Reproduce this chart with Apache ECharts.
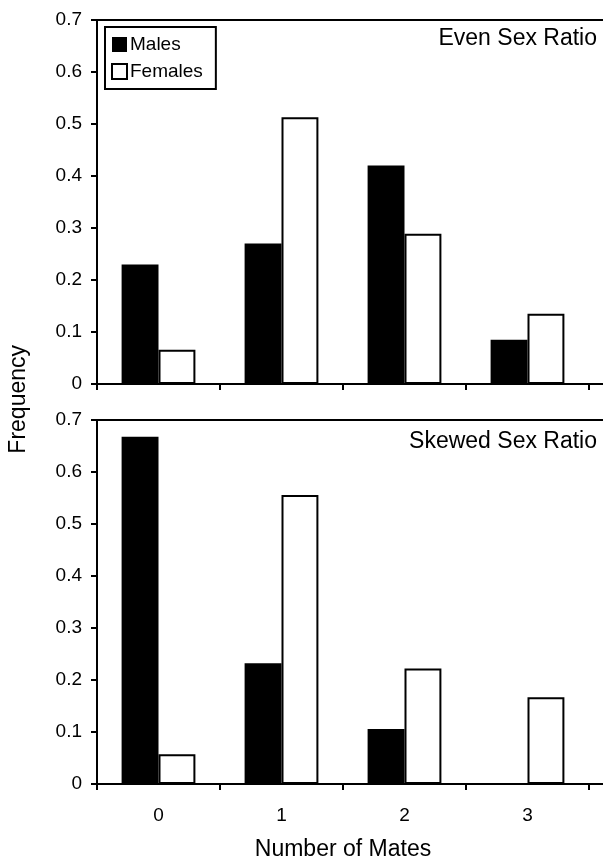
<!DOCTYPE html>
<html>
<head>
<meta charset="utf-8">
<script src="https://cdn.jsdelivr.net/npm/echarts@6/dist/echarts.min.js"></script>
<style>
  html, body { margin: 0; padding: 0; background: #fff; }
  #chart { width: 603px; height: 862px; }
</style>
</head>
<body>
<div id="chart"></div>
<script>
  // Frequency of number of mates, by sex, under two sex-ratio treatments.
  var CATEGORIES = ["0", "1", "2", "3"];
  var EVEN_MALES = [0.23, 0.27, 0.42, 0.085];
  var EVEN_FEMALES = [0.066, 0.513, 0.289, 0.135];
  var SKEWED_MALES = [0.668, 0.232, 0.106, 0];
  var SKEWED_FEMALES = [0.057, 0.556, 0.222, 0.167];
  var Y_TICKS = [0, 0.1, 0.2, 0.3, 0.4, 0.5, 0.6, 0.7];

  var FONT = "Liberation Sans, Arial, sans-serif";
  var INK = "#000";

  var chart = echarts.init(document.getElementById("chart"), null, { renderer: "canvas" });

  // v6 would otherwise shrink the grid to keep axis names inside the canvas
  var grids = [
    { left: 97, right: 14, top: 20, height: 364, containLabel: false, outerBoundsMode: "none" },
    { left: 97, right: 14, top: 420, height: 364, containLabel: false, outerBoundsMode: "none" }
  ];

  function xAxis(gridIndex, showLabels) {
    return {
      type: "category", gridIndex: gridIndex, data: CATEGORIES,
      axisLine: { lineStyle: { color: INK, width: 2 } },
      axisTick: { show: true, inside: false, length: 6, lineStyle: { color: INK, width: 2 } },
      axisLabel: { show: showLabels, color: INK, fontFamily: FONT, fontSize: 19, margin: 22 },
      name: showLabels ? "Number of Mates" : "",
      nameLocation: "middle", nameGap: 54,
      nameTextStyle: { color: INK, fontFamily: FONT, fontSize: 23 }
    };
  }

  function yAxis(gridIndex) {
    return {
      type: "value", gridIndex: gridIndex,
      min: Y_TICKS[0], max: Y_TICKS[Y_TICKS.length - 1], interval: 0.1,
      axisLine: { show: true, lineStyle: { color: INK, width: 2 } },
      axisTick: { show: true, length: 6, lineStyle: { color: INK, width: 2 } },
      axisLabel: {
        color: INK, fontFamily: FONT, fontSize: 19, margin: 15,
        formatter: function (v) { return v === 0 ? "0" : (Math.round(v * 10) / 10).toString(); }
      },
      splitLine: { show: false }
    };
  }

  function bars(name, data, idx, filled) {
    return {
      name: name, type: "bar", xAxisIndex: idx, yAxisIndex: idx, data: data,
      barWidth: "30%", barGap: "0%",
      itemStyle: filled
        ? { color: INK }
        : { color: "#fff", borderColor: INK, borderWidth: 2 },
      emphasis: { disabled: true }
    };
  }

  var titleStyle = { fontFamily: FONT, fontSize: 23, fontWeight: "normal", color: INK };

  var option = {
    animation: false,
    backgroundColor: "#fff",
    textStyle: { fontFamily: FONT, color: INK },
    grid: grids,
    xAxis: [xAxis(0, false), xAxis(1, true)],
    yAxis: [yAxis(0), yAxis(1)],
    title: [
      { text: "Even Sex Ratio", right: 6, top: 27, padding: 0, textStyle: titleStyle },
      { text: "Skewed Sex Ratio", right: 6, top: 430, padding: 0, textStyle: titleStyle }
    ],
    legend: {
      data: ["Males", "Females"],
      orient: "vertical", left: 105, top: 27,
      icon: "rect",
      itemWidth: 15, itemHeight: 15, itemGap: 8,
      padding: [8, 13, 8, 6],
      borderColor: INK, borderWidth: 2, borderRadius: 0,
      backgroundColor: "#fff",
      selectedMode: false,
      textStyle: { color: INK, fontFamily: FONT, fontSize: 19, padding: [0, 0, 0, -2] }
    },
    graphic: [
      // top frame lines and right-hand axis extensions to the page edge
      { type: "line", shape: { x1: 96, y1: 20, x2: 603, y2: 20 }, style: { stroke: INK, lineWidth: 2 } },
      { type: "line", shape: { x1: 96, y1: 420, x2: 603, y2: 420 }, style: { stroke: INK, lineWidth: 2 } },
      { type: "line", shape: { x1: 589, y1: 384, x2: 603, y2: 384 }, style: { stroke: INK, lineWidth: 2 } },
      { type: "line", shape: { x1: 589, y1: 784, x2: 603, y2: 784 }, style: { stroke: INK, lineWidth: 2 } },
      { type: "text", left: 7, top: 345, rotation: Math.PI / 2,
        style: { text: "Frequency", fill: INK, font: "23px " + FONT } }
    ],
    series: [
      bars("Males", EVEN_MALES, 0, true),
      bars("Females", EVEN_FEMALES, 0, false),
      bars("Males", SKEWED_MALES, 1, true),
      bars("Females", SKEWED_FEMALES, 1, false)
    ]
  };

  chart.setOption(option);
</script>
</body>
</html>
